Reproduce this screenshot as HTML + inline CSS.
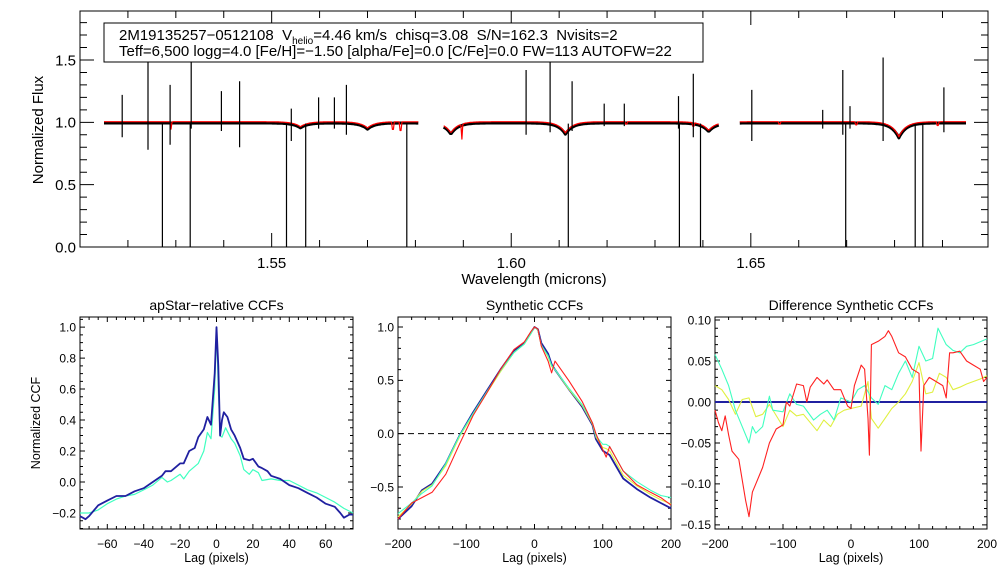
<!DOCTYPE html>
<html><head><meta charset="utf-8"><style>
body{margin:0;background:#fff;}
svg{display:block;font-family:"Liberation Sans",sans-serif;}
</style></head><body>
<svg id="c" width="1008" height="576"></svg>
<script>
// ---- top spectrum data ----
const chipRanges=[[1.5150,1.5807],[1.5859,1.6433],[1.6477,1.6949]];
const broadDipWl=[1.5560,1.5700,1.5874,1.6113,1.6412,1.6809];
const broadDipDepth=[0.04,0.05,0.09,0.09,0.07,0.12];
const redLineWl=[1.5290,1.5753,1.5769,1.5897,1.6240,1.6380,1.6560,1.6720,1.6890];
const redLineDepth=[0.06,0.12,0.14,0.12,0.04,0.06,0.04,0.05,0.06];
const spikeWl=[1.5188,1.5242,1.5288,1.5332,1.5395,1.5433,1.5541,1.5598,1.5631,1.5656,1.6031,1.6081,1.6127,1.6194,1.6236,1.6349,1.6380,1.6502,1.6650,1.6692,1.6707,1.6776,1.6903];
const spikeTop=[1.22,1.48,1.30,1.52,1.25,1.33,1.11,1.20,1.20,1.30,1.42,1.48,1.33,1.15,1.15,1.21,1.39,1.26,1.10,1.42,1.13,1.52,1.28];
const spikeBot=[0.88,0.78,0.82,0.95,0.93,0.80,0.85,0.95,0.95,0.90,0.90,0.92,0.93,0.97,0.97,0.95,0.88,0.85,0.95,0.90,0.95,0.85,0.92];
const deadWl=[1.5272,1.5330,1.5531,1.5571,1.5782,1.6119,1.6351,1.6395,1.6698,1.6843,1.6859];
// ---- panel 1 ----
const p1BlueLag=[-75,-72,-70,-65,-60,-55,-50,-45,-40,-35,-30,-28,-25,-20,-18,-15,-12,-10,-7,-5,-3,-1,0,1,2,3,4,6,8,10,13,15,18,20,23,25,28,30,35,40,45,50,55,60,65,68,70,73,75];
const p1BlueVal=[-0.22,-0.24,-0.22,-0.15,-0.12,-0.09,-0.09,-0.06,-0.04,0.0,0.04,0.07,0.07,0.12,0.12,0.2,0.22,0.29,0.34,0.42,0.37,0.7,1.0,0.75,0.3,0.4,0.45,0.42,0.34,0.3,0.22,0.15,0.14,0.15,0.1,0.09,0.07,0.04,0.02,-0.02,-0.04,-0.07,-0.1,-0.14,-0.16,-0.2,-0.23,-0.21,-0.21];
const p1CyanLag=[-75,-70,-65,-60,-55,-50,-45,-40,-35,-30,-27,-25,-20,-18,-15,-10,-7,-5,-3,-1,0,1,2,3,5,8,10,13,15,18,20,23,25,30,35,40,45,50,55,60,65,70,75];
const p1CyanVal=[-0.2,-0.2,-0.18,-0.14,-0.11,-0.09,-0.08,-0.05,-0.02,0.03,0.0,0.01,0.05,0.02,0.07,0.12,0.2,0.32,0.28,0.6,1.0,0.6,0.3,0.29,0.35,0.28,0.25,0.17,0.08,0.05,0.08,0.06,0.01,0.02,0.01,0.01,-0.02,-0.05,-0.07,-0.1,-0.13,-0.17,-0.2];
// ---- panel 2 ----
const p2Lag=[-200,-180,-165,-150,-130,-110,-90,-70,-50,-30,-15,-5,0,5,10,20,25,30,50,70,85,90,100,105,110,130,150,170,185,200];
const p2Blue=[-0.8,-0.68,-0.53,-0.47,-0.28,-0.02,0.2,0.4,0.6,0.78,0.85,0.95,1.0,0.98,0.85,0.75,0.65,0.6,0.42,0.25,0.08,-0.05,-0.16,-0.18,-0.2,-0.42,-0.52,-0.6,-0.65,-0.7];
const p2Cyan=[-0.75,-0.65,-0.56,-0.49,-0.28,-0.02,0.19,0.39,0.59,0.76,0.84,0.94,1.0,0.97,0.83,0.73,0.64,0.6,0.43,0.27,0.1,-0.02,-0.1,-0.1,-0.12,-0.35,-0.45,-0.53,-0.58,-0.6];
const p2Yellow=[-0.78,-0.66,-0.54,-0.48,-0.3,-0.03,0.18,0.38,0.58,0.76,0.84,0.94,1.0,0.97,0.83,0.72,0.63,0.6,0.42,0.26,0.09,-0.03,-0.13,-0.14,-0.16,-0.39,-0.49,-0.57,-0.62,-0.66];
const p2Red=[-0.8,-0.65,-0.6,-0.55,-0.38,-0.1,0.17,0.38,0.6,0.79,0.86,0.96,1.0,0.98,0.82,0.68,0.57,0.68,0.5,0.3,0.1,0.0,-0.15,-0.22,-0.12,-0.35,-0.48,-0.55,-0.6,-0.67];
// ---- panel 3 ----
const p3CyanLag=[-200,-190,-180,-170,-160,-150,-145,-140,-130,-120,-115,-100,-90,-80,-70,-55,-45,-35,-25,-15,0,10,20,30,40,50,60,70,80,90,100,110,120,128,140,150,160,170,180,200];
const p3CyanVal=[0.058,0.04,0.02,-0.01,-0.03,-0.05,-0.03,-0.038,-0.03,0.007,-0.01,-0.012,0.01,-0.003,-0.005,-0.022,-0.015,-0.01,-0.022,0.005,0.0,0.015,0.02,0.005,-0.003,0.02,0.015,0.035,0.05,0.03,0.068,0.05,0.053,0.09,0.07,0.063,0.06,0.068,0.07,0.077];
const p3YellowLag=[-200,-190,-180,-170,-160,-150,-140,-130,-120,-100,-90,-80,-70,-50,-40,-30,-20,-10,0,15,25,30,40,50,60,70,80,90,100,110,120,130,140,150,160,170,180,190,200];
const p3YellowVal=[0.02,0.015,0.003,-0.015,0.003,0.005,-0.018,-0.015,-0.003,-0.03,-0.01,-0.017,-0.015,-0.035,-0.022,-0.03,-0.015,-0.01,-0.008,-0.005,0.025,-0.02,-0.032,-0.02,-0.008,0.0,0.01,0.025,0.048,0.01,0.012,0.035,0.03,0.015,0.018,0.022,0.025,0.028,0.032];
const p3RedLag=[-200,-195,-190,-185,-180,-175,-165,-160,-155,-150,-145,-140,-130,-120,-110,-100,-95,-90,-80,-70,-65,-60,-50,-40,-35,-25,-15,-5,0,5,15,20,25,27,30,40,50,55,60,70,80,90,100,103,107,115,125,135,140,145,150,160,170,180,190,195,200];
const p3RedVal=[-0.01,-0.025,-0.035,-0.017,-0.04,-0.06,-0.07,-0.095,-0.12,-0.14,-0.11,-0.1,-0.08,-0.05,-0.033,-0.028,0.0,-0.005,0.022,0.02,0.0,0.018,0.03,0.022,0.027,0.015,0.015,-0.005,-0.008,0.02,0.045,0.04,-0.02,-0.065,0.07,0.074,0.08,0.087,0.08,0.06,0.055,0.04,0.035,-0.06,0.02,0.03,0.025,0.02,0.005,0.06,0.06,0.062,0.05,0.045,0.04,0.025,0.03];

const NS='http://www.w3.org/2000/svg';
const svgRoot=document.getElementById('c');
function mk(tag,attrs,parent,text){const e=document.createElementNS(NS,tag);for(const k in attrs)e.setAttribute(k,attrs[k]);if(text!==undefined)e.textContent=text;(parent||svgRoot).appendChild(e);return e;}
function scale(d0,d1,r0,r1){return v=>r0+(v-d0)*(r1-r0)/(d1-d0);}

function axes(g,box,xd,yd,xMaj,xMin,yMaj,yMin,xfmt,yfmt,majLen,minLen,fs,xlabDy){
  const [L,T,R,B]=box;const X=scale(xd[0],xd[1],L,R),Y=scale(yd[0],yd[1],B,T);
  const fr=mk('rect',{x:L,y:T,width:R-L,height:B-T,fill:'none',stroke:'#000','stroke-width':1},g);
  
  
  let d='';
  const eps=1e-9;
  const nx0=Math.ceil((xd[0]-eps)/xMin), nx1=Math.floor((xd[1]+eps)/xMin);
  for(let n=nx0;n<=nx1;n++){const v=n*xMin;const x=X(v);const maj=Math.abs(v/xMaj-Math.round(v/xMaj))<1e-6;const l=maj?majLen:minLen;d+=`M${x},${B}v${-l}M${x},${T}v${l}`;}
  const ny0=Math.ceil((yd[0]-eps)/yMin), ny1=Math.floor((yd[1]+eps)/yMin);
  for(let n=ny0;n<=ny1;n++){const v=n*yMin;const y=Y(v);const maj=Math.abs(v/yMaj-Math.round(v/yMaj))<1e-6;const l=maj?majLen:minLen;d+=`M${L},${y}h${l}M${R},${y}h${-l}`;}
  const tk=mk('path',{d:d,stroke:'#000','stroke-width':1,fill:'none'},g);
  
  
  const mx0=Math.ceil((xd[0]-eps)/xMaj), mx1=Math.floor((xd[1]+eps)/xMaj);
  for(let n=mx0;n<=mx1;n++){const v=n*xMaj;const t=mk('text',{x:X(v),y:B+xlabDy,'font-size':fs,'text-anchor':'middle'},g,xfmt(v));}
  const my0=Math.ceil((yd[0]-eps)/yMaj), my1=Math.floor((yd[1]+eps)/yMaj);
  for(let n=my0;n<=my1;n++){const v=n*yMaj;const t=mk('text',{x:L-4,y:Y(v)+fs*0.36,'font-size':fs,'text-anchor':'end'},g,yfmt(v));}
  return {X:X,Y:Y};
}
function line(g,X,Y,xs,ys,color,w,name){
  const pts=xs.map((x,i)=>X(x).toFixed(1)+','+Y(ys[i]).toFixed(1)).join(' ');
  const p=mk('polyline',{points:pts,fill:'none',stroke:color,'stroke-width':w,'stroke-linejoin':'round'},g);
  
  
  return p;
}
const mfmt=v=>(v<0?'\u2212':'')+Math.abs(Math.round(v));

// ---- top panel ----
const gTop=mk('g',{});


const topAx=axes(gTop,[80,11,988,247],[1.51,1.6995],[0,1.893],0.05,0.01,0.5,0.1,v=>v.toFixed(2),v=>v.toFixed(1),14,7,15,21);
const tx=mk('text',{x:534,y:284,'font-size':15,'text-anchor':'middle'},gTop,'Wavelength (microns)');

const ty=mk('text',{x:43,y:130,'font-size':15,'text-anchor':'middle',transform:'rotate(-90 43 130)'},gTop,'Normalized Flux');


function model(wl){let f=1.0;broadDipWl.forEach((w,i)=>{f-=broadDipDepth[i]*Math.exp(-Math.abs(wl-w)/0.0015);});return f;}
function redModel(wl){let f=model(wl)+0.005;redLineWl.forEach((w,i)=>{f-=redLineDepth[i]*Math.exp(-Math.pow((wl-w)/0.00012,2));});return f;}
chipRanges.forEach((r,ci)=>{
  const xs=[],ysB=[],ysR=[];
  for(let wl=r[0];wl<=r[1];wl+=0.0002){xs.push(wl);ysB.push(model(wl)-0.005);ysR.push(redModel(wl));}
  line(gTop,topAx.X,topAx.Y,xs,ysB,'#000',3,'observed-spectrum-chip-'+(ci+1));
  line(gTop,topAx.X,topAx.Y,xs,ysR,'#ff0000',1.2,'model-spectrum-chip-'+(ci+1));
});
let sd='';
spikeWl.forEach((w,i)=>{sd+=`M${topAx.X(w).toFixed(1)},${topAx.Y(spikeTop[i])}V${topAx.Y(spikeBot[i])}`;});
deadWl.forEach(w=>{sd+=`M${topAx.X(w).toFixed(1)},${topAx.Y(0.99)}V${topAx.Y(0)}`;});
const sp=mk('path',{d:sd,stroke:'#000','stroke-width':1.2,fill:'none'},gTop);

const lg=mk('g',{},gTop);

mk('rect',{x:104,y:23,width:599,height:39,fill:'#fff',stroke:'#000','stroke-width':1},lg);
const l1=mk('text',{x:119,y:40,'font-size':15},lg);
mk('tspan',{},l1,'2M19135257\u22120512108  V');
mk('tspan',{'font-size':10,dy:4},l1,'helio');
mk('tspan',{dy:-4},l1,'=4.46 km/s  chisq=3.08  S/N=162.3  Nvisits=2');
l1.setAttribute('xml:space','preserve');
l1.style.whiteSpace='pre';
mk('text',{x:119,y:56,'font-size':15},lg,'Teff=6,500 logg=4.0 [Fe/H]=\u22121.50 [alpha/Fe]=0.0 [C/Fe]=0.0 FW=113 AUTOFW=22');

// ---- bottom panels ----
function panel(name,box,xd,yd,xMaj,xMin,yMaj,yMin,yfmt,title){
  const g=mk('g',{});
  
  
  const a=axes(g,box,xd,yd,xMaj,xMin,yMaj,yMin,mfmt,yfmt,5,3,12,19);
  const t=mk('text',{x:(box[0]+box[2])/2,y:310,'font-size':14,'text-anchor':'middle'},g,title);
  
  const xl=mk('text',{x:(box[0]+box[2])/2,y:562,'font-size':12.5,'text-anchor':'middle'},g,'Lag (pixels)');
  
  a.g=g;return a;
}
const f2=v=>{const s=Math.abs(v).toFixed(1);return (v<-1e-9?'\u2212':'')+s;};
const a1=panel('apstar-ccf-panel',[80,317,353,529],[-75,75],[-0.303,1.065],20,5,0.2,0.05,f2,'apStar\u2212relative CCFs');
const yl=mk('text',{x:40,y:423,'font-size':12.5,'text-anchor':'middle',transform:'rotate(-90 40 423)'},a1.g,'Normalized CCF');

line(a1.g,a1.X,a1.Y,p1CyanLag,p1CyanVal,'#40ffc0',1.2,'cyan-ccf');
line(a1.g,a1.X,a1.Y,p1BlueLag,p1BlueVal,'#2020a0',1.8,'blue-ccf');

const a2=panel('synthetic-ccf-panel',[398,317,671,529],[-200,200],[-0.894,1.094],100,20,0.5,0.1,f2,'Synthetic CCFs');
const zl=mk('line',{x1:398,x2:671,y1:a2.Y(0),y2:a2.Y(0),stroke:'#000','stroke-dasharray':'6,4'},a2.g);

line(a2.g,a2.X,a2.Y,p2Lag,p2Blue,'#2020a0',1.8,'blue-ccf');
line(a2.g,a2.X,a2.Y,p2Lag,p2Yellow,'#e0f040',1.1,'yellow-ccf');
line(a2.g,a2.X,a2.Y,p2Lag,p2Cyan,'#40ffc0',1.1,'cyan-ccf');
line(a2.g,a2.X,a2.Y,p2Lag,p2Red,'#ff2020',1.1,'red-ccf');

const f3=v=>{const s=Math.abs(v).toFixed(2);return (v<-1e-9?'\u2212':'')+s;};
const a3=panel('difference-ccf-panel',[715,317,987,529],[-200,200],[-0.155,0.1037],100,20,0.05,0.01,f3,'Difference Synthetic CCFs');
const bl=mk('line',{x1:715,x2:987,y1:a3.Y(0),y2:a3.Y(0),stroke:'#2020a0','stroke-width':2},a3.g);

line(a3.g,a3.X,a3.Y,p3YellowLag,p3YellowVal,'#e0f040',1.1,'yellow-difference');
line(a3.g,a3.X,a3.Y,p3CyanLag,p3CyanVal,'#40ffc0',1.1,'cyan-difference');
line(a3.g,a3.X,a3.Y,p3RedLag,p3RedVal,'#ff2020',1.1,'red-difference');
</script>
</body></html>
